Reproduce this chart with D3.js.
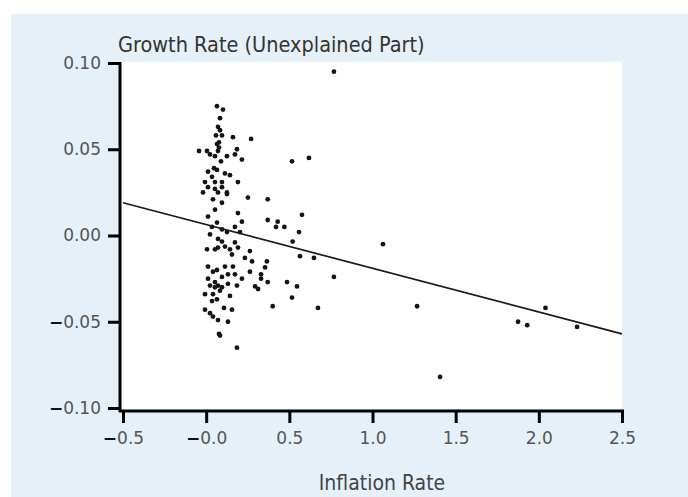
<!DOCTYPE html>
<html>
<head>
<meta charset="utf-8">
<script src="https://cdn.jsdelivr.net/npm/d3@7"></script>
<style>
  body { margin: 0; background: #ffffff; }
  svg { display: block; font-family: "DejaVu Sans Condensed", "DejaVu Sans", sans-serif; }
</style>
</head>
<body>
<div id="chart"></div>
<script>
// axis ticks
const xTicks = [-0.5, 0.0, 0.5, 1.0, 1.5, 2.0, 2.5];
const xTickLabels = ["-0.5", "-0.0", "0.5", "1.0", "1.5", "2.0", "2.5"];
const yTicks = [0.10, 0.05, 0.00, -0.05, -0.10];
const yTickLabels = ["0.10", "0.05", "0.00", "-0.05", "-0.10"];

// scatter points (inflation rate, unexplained growth)
const inflation = [
  0.065, 0.101, 0.083, 0.071, 0.083, 0.095, 0.059, 0.161, 0.27, 0.077,
  0.065, 0.077, -0.043, 0.005, 0.023, 0.053, 0.071, 0.125, 0.185, 0.173,
  0.089, 0.215, 0.047, 0.065, 0.011, 0.113, 0.143, 0.191, 0.035, -0.007,
  0.053, 0.095, 0.011, 0.053, 0.095, 0.125, -0.019, 0.071, 0.125, 0.041,
  0.095, 0.251, 0.191, 0.011, 0.053, 0.215, 0.065, 0.035, 0.095, 0.125,
  0.173, 0.203, 0.023, 0.071, 0.095, 0.173, 0.113, 0.005, 0.053, 0.071,
  0.143, 0.191, 0.155, 0.011, 0.065, 0.041, 0.113, 0.161, 0.095, 0.131,
  0.173, 0.263, 0.011, 0.053, 0.023, 0.071, 0.131, 0.185, 0.053, 0.095,
  -0.007, 0.041, 0.083, 0.143, 0.035, 0.065, -0.007, 0.023, 0.041, 0.107,
  0.155, 0.071, 0.131, 0.077, 0.083, 0.185,
  0.768, 0.516, 0.618, 0.37, 0.37, 0.43, 0.42, 0.47, 0.576, 0.558,
  0.52, 1.063, 0.263, 0.564, 0.648, 0.768, 0.233, 0.276, 0.365, 0.354,
  0.33, 0.33, 0.215, 0.37, 0.486, 0.294, 0.312, 0.546, 0.516, 0.40,
  0.672, 1.268, 1.406, 1.875, 1.93, 2.04, 2.23
];
const growth = [
  0.075, 0.073, 0.068, 0.063, 0.061, 0.058, 0.058, 0.057, 0.056, 0.054,
  0.053, 0.051, 0.049, 0.049, 0.047, 0.046, 0.049, 0.046, 0.050, 0.047,
  0.043, 0.044, 0.039, 0.038, 0.037, 0.036, 0.035, 0.031, 0.034, 0.031,
  0.031, 0.031, 0.028, 0.027, 0.028, 0.025, 0.025, 0.025, 0.024, 0.021,
  0.019, 0.022, 0.013, 0.011, 0.015, 0.008, 0.0075, 0.005, 0.0035, 0.002,
  0.005, 0.002, 0.0006, -0.002, -0.0035, -0.004, -0.0064, -0.008, -0.008, -0.007,
  -0.008, -0.007, -0.011, -0.018, -0.020, -0.021, -0.018, -0.018, -0.024, -0.0225,
  -0.0225, -0.021, -0.025, -0.027, -0.029, -0.029, -0.028, -0.029, -0.030, -0.030,
  -0.034, -0.034, -0.032, -0.035, -0.038, -0.037, -0.043, -0.045, -0.047, -0.042,
  -0.043, -0.049, -0.050, -0.057, -0.058, -0.065,
  0.095, 0.043, 0.045, 0.021, 0.009, 0.008, 0.005, 0.005, 0.012, 0.002,
  -0.0035, -0.005, -0.009, -0.012, -0.013, -0.024, -0.013, -0.015, -0.015, -0.0185,
  -0.0225, -0.025, -0.025, -0.027, -0.027, -0.0295, -0.031, -0.0295, -0.036, -0.041,
  -0.042, -0.041, -0.082, -0.050, -0.052, -0.042, -0.053
];

// fitted line end points
const fitX = [-0.5, 2.5];
const fitY = [0.019, -0.057];

const points = inflation.map((d, i) => ({x: d, y: growth[i]}));

const width = 688, height = 497;

const svg = d3.select("#chart")
  .append("svg")
    .attr("width", width)
    .attr("height", height);

// light blue panel
svg.append("rect")
  .attr("x", 11).attr("y", 14)
  .attr("width", width - 11).attr("height", height - 14)
  .attr("fill", "#e6f0f8");

const x = d3.scaleLinear().domain([-0.5, 2.5]).range([123, 622]);
const y = d3.scaleLinear().domain([-0.10, 0.10]).range([408, 63]);

// white plot area
svg.append("rect")
  .attr("x", 121).attr("y", 62)
  .attr("width", 501).attr("height", 348)
  .attr("fill", "#ffffff");

// points
svg.append("g")
  .selectAll("circle")
  .data(points)
  .join("circle")
    .attr("cx", d => x(d.x))
    .attr("cy", d => y(d.y))
    .attr("r", 2.4)
    .attr("fill", "#141414");

// fitted line
svg.append("line")
  .attr("x1", x(fitX[0])).attr("y1", y(fitY[0]))
  .attr("x2", x(fitX[1])).attr("y2", y(fitY[1]))
  .attr("stroke", "#1a1a1a")
  .attr("stroke-width", 1.7);

// label with heavy minus sign
function minusLabel(sel, label) {
  sel.text(null);
  if (label.startsWith("-")) {
    sel.append("tspan").attr("font-weight", "bold").attr("fill", "#111").text("\u2212");
    sel.append("tspan").text(label.slice(1));
  } else {
    sel.append("tspan").text(label);
  }
}

// Y axis
const yAxis = svg.append("g")
  .attr("transform", "translate(120,0)")
  .call(d3.axisLeft(y).tickValues(yTicks).tickSize(12).tickSizeOuter(0).tickPadding(7));
yAxis.select(".domain").remove();
yAxis.attr("font-family", "DejaVu Sans").attr("font-size", 17);
yAxis.selectAll(".tick line").attr("stroke", "#000").attr("stroke-width", 3);
yAxis.selectAll(".tick text")
  .attr("fill", "#555")
  .each(function(d, i) { minusLabel(d3.select(this), yTickLabels[i]); });
yAxis.append("line")
  .attr("x1", 0).attr("x2", 0).attr("y1", 62).attr("y2", 412)
  .attr("stroke", "#000").attr("stroke-width", 3);

// X axis
const xAxis = svg.append("g")
  .attr("transform", "translate(0,411)")
  .call(d3.axisBottom(x).tickValues(xTicks).tickSize(12).tickSizeOuter(0).tickPadding(9));
xAxis.select(".domain").remove();
xAxis.attr("font-family", "DejaVu Sans").attr("font-size", 17);
xAxis.selectAll(".tick line").attr("stroke", "#000").attr("stroke-width", 3);
xAxis.selectAll(".tick text")
  .attr("fill", "#555")
  .each(function(d, i) { minusLabel(d3.select(this), xTickLabels[i]); });
xAxis.append("line")
  .attr("x1", 119).attr("x2", 624).attr("y1", 0).attr("y2", 0)
  .attr("stroke", "#000").attr("stroke-width", 3);

// titles
svg.append("text")
  .attr("x", 118)
  .attr("y", 52)
  .attr("fill", "#333")
  .style("font-size", "21.5px")
  .text("Growth Rate (Unexplained Part)");

svg.append("text")
  .attr("x", 382)
  .attr("y", 490)
  .attr("text-anchor", "middle")
  .attr("fill", "#444")
  .style("font-size", "21px")
  .text("Inflation Rate");
</script>
</body>
</html>
